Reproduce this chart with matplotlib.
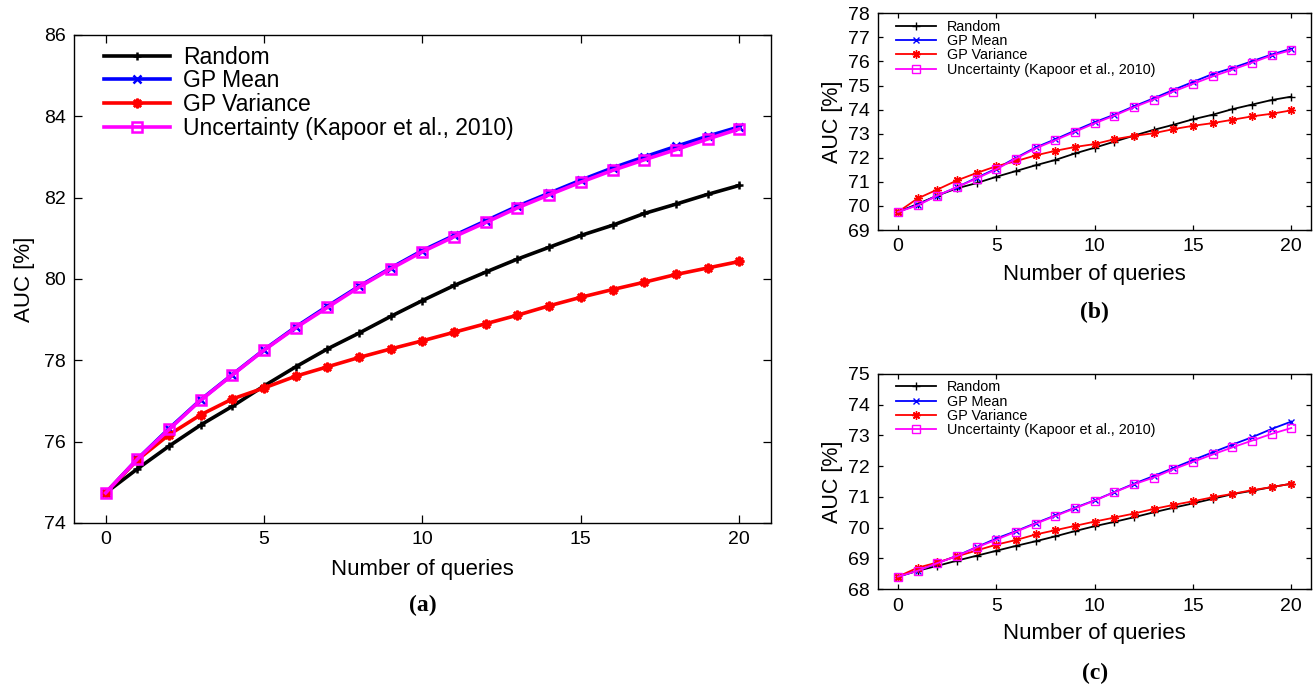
import numpy as np
import matplotlib
matplotlib.use("Agg")
import matplotlib.pyplot as plt

plt.rcParams["font.family"] = ["Liberation Sans", "DejaVu Sans"]

queries = np.arange(21)
labels = ["Random", "GP Mean", "GP Variance", "Uncertainty (Kapoor et al., 2010)"]

# panel (a)
rand_a = [74.74, 75.33, 75.89, 76.41, 76.87, 77.37, 77.84, 78.28, 78.67, 79.08, 79.47,
          79.84, 80.17, 80.49, 80.78, 81.07, 81.32, 81.61, 81.84, 82.08, 82.30]
mean_a = [74.74, 75.57, 76.32, 77.03, 77.65, 78.26, 78.82, 79.33, 79.82, 80.27, 80.70,
          81.07, 81.43, 81.79, 82.11, 82.43, 82.73, 83.00, 83.26, 83.51, 83.74]
var_a = [74.74, 75.55, 76.17, 76.66, 77.05, 77.32, 77.61, 77.84, 78.07, 78.28, 78.48,
         78.69, 78.90, 79.11, 79.34, 79.55, 79.74, 79.92, 80.11, 80.27, 80.43]
unc_a = [74.74, 75.57, 76.30, 77.02, 77.64, 78.25, 78.80, 79.30, 79.80, 80.25, 80.67,
         81.04, 81.39, 81.75, 82.07, 82.38, 82.67, 82.93, 83.18, 83.44, 83.69]

# panel (b)
rand_b = [69.75, 70.08, 70.43, 70.73, 70.95, 71.21, 71.45, 71.69, 71.91, 72.18, 72.42,
          72.67, 72.92, 73.16, 73.37, 73.60, 73.79, 74.02, 74.21, 74.40, 74.54]
mean_b = [69.75, 70.05, 70.43, 70.78, 71.17, 71.55, 72.00, 72.43, 72.77, 73.13, 73.48,
          73.79, 74.14, 74.47, 74.82, 75.15, 75.48, 75.73, 76.01, 76.29, 76.53]
var_b = [69.75, 70.31, 70.68, 71.06, 71.37, 71.65, 71.86, 72.10, 72.29, 72.45, 72.57,
         72.77, 72.91, 73.02, 73.19, 73.33, 73.44, 73.58, 73.72, 73.83, 73.97]
unc_b = [69.75, 70.02, 70.43, 70.78, 71.14, 71.52, 71.97, 72.39, 72.73, 73.08, 73.43,
         73.75, 74.10, 74.42, 74.75, 75.07, 75.38, 75.66, 75.95, 76.25, 76.47]

# panel (c)
rand_c = [68.41, 68.60, 68.76, 68.93, 69.09, 69.25, 69.41, 69.56, 69.72, 69.89, 70.05,
          70.19, 70.34, 70.50, 70.65, 70.79, 70.94, 71.09, 71.20, 71.32, 71.43]
mean_c = [68.41, 68.60, 68.85, 69.09, 69.37, 69.65, 69.89, 70.15, 70.40, 70.65, 70.89,
          71.16, 71.43, 71.68, 71.94, 72.20, 72.45, 72.70, 72.94, 73.21, 73.45]
var_c = [68.41, 68.70, 68.87, 69.07, 69.26, 69.45, 69.60, 69.78, 69.92, 70.06, 70.20,
         70.33, 70.46, 70.61, 70.74, 70.86, 70.99, 71.10, 71.22, 71.32, 71.43]
unc_c = [68.41, 68.60, 68.85, 69.08, 69.36, 69.61, 69.87, 70.13, 70.38, 70.63, 70.88,
         71.15, 71.41, 71.63, 71.90, 72.14, 72.38, 72.61, 72.83, 73.05, 73.24]

colors = ["black", "#0000ff", "#ff0000", "#ff00ff"]
markers = ["+", "x", (8, 2, 0), "s"]


def draw_panel(ax, series, ylim, yticks, big, tag, tag_y):
    lw = 2.6 if big else 1.3
    ms = [6, 6, 7, 7] if big else [6, 5, 6, 6]
    mew = 1.8 if big else 1.0
    for y, c, m, lab, s in zip(series, colors, markers, labels, ms):
        ax.plot(queries, y, color=c, marker=m, lw=lw, ms=s, mew=mew,
                mfc="none" if m == "s" else c, label=lab)
    ax.set_xlim(-1, 21)
    ax.set_ylim(*ylim)
    ax.set_xticks([0, 5, 10, 15, 20])
    ax.set_yticks(yticks)
    ax.tick_params(direction="in", top=True, right=True, labelsize=14,
                   length=5.5 if big else 3.5, width=0.9, pad=6)
    for sp in ax.spines.values():
        sp.set_linewidth(1.0)
    ax.set_xlabel("Number of queries", fontsize=16, labelpad=8 if big else 6)
    ax.set_ylabel("AUC [%]", fontsize=16 if big else 15.5, labelpad=6 if big else 4)
    if big:
        ax.legend(loc="upper left", bbox_to_anchor=(0.043, 0.978), frameon=False,
                  fontsize=16.5, handlelength=2.9, handletextpad=0.55,
                  labelspacing=0.03, borderpad=0, borderaxespad=0)
    else:
        ax.legend(loc="upper left", bbox_to_anchor=(0.041, 0.97), frameon=False,
                  fontsize=10.4, handlelength=2.8, handletextpad=0.7,
                  labelspacing=0.02, borderpad=0, borderaxespad=0)
    ax.text(0.5, tag_y, tag, transform=ax.transAxes, ha="center", va="center",
            fontsize=17, fontweight="bold", family="Liberation Serif")


fig = plt.figure(figsize=(13.14, 6.84), dpi=100)
ax_a = fig.add_axes([0.0563, 0.2354, 0.5304, 0.7135])
ax_b = fig.add_axes([0.6684, 0.6637, 0.3293, 0.3168])
ax_c = fig.add_axes([0.6684, 0.1385, 0.3293, 0.3149])

draw_panel(ax_a, [rand_a, mean_a, var_a, unc_a], (74, 86), np.arange(74, 87, 2),
           True, "(a)", -0.168)
draw_panel(ax_b, [rand_b, mean_b, var_b, unc_b], (69, 78), np.arange(69, 79),
           False, "(b)", -0.38)
draw_panel(ax_c, [rand_c, mean_c, var_c, unc_c], (68, 75), np.arange(68, 76),
           False, "(c)", -0.392)

fig.savefig("out.png", dpi=100)
